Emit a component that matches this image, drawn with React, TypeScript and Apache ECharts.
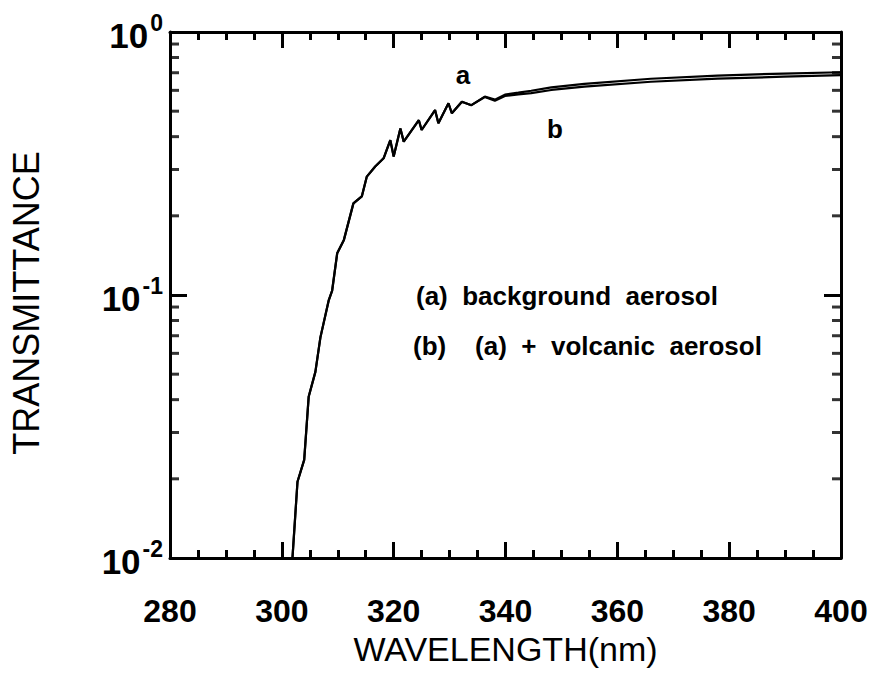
import React, { useEffect, useRef } from "react";
import * as echarts from "echarts";

// wavelength (nm) sample points
const wavelengths = [
  301.6, 302.4, 302.8, 304.0, 304.8, 306.0, 306.9, 308.4, 309.0, 309.9, 311.1,
  312.8, 314.3, 315.2, 316.7, 318.2, 319.4, 320.0, 321.2, 321.8, 324.5, 325.0,
  327.4, 328.0, 329.8, 330.4, 332.2, 333.9, 336.3, 338.1, 339.9, 342.3, 344.6,
  348.2, 354.1, 366.0, 377.9, 389.7, 400.0,
];
// (a) background aerosol
const transmittanceA = [
  0.008, 0.0145, 0.0195, 0.0236, 0.041, 0.051, 0.069, 0.0957, 0.104, 0.144,
  0.162, 0.223, 0.237, 0.282, 0.308, 0.331, 0.388, 0.336, 0.43, 0.383, 0.462,
  0.424, 0.505, 0.45, 0.536, 0.491, 0.543, 0.527, 0.568, 0.553, 0.578, 0.588,
  0.598, 0.616, 0.635, 0.664, 0.683, 0.695, 0.703,
];
// (b) (a) + volcanic aerosol
const transmittanceB = [
  0.008, 0.0145, 0.0195, 0.0236, 0.041, 0.051, 0.069, 0.0957, 0.104, 0.144,
  0.162, 0.223, 0.237, 0.282, 0.308, 0.331, 0.388, 0.336, 0.43, 0.383, 0.462,
  0.424, 0.505, 0.45, 0.536, 0.491, 0.543, 0.527, 0.566, 0.548, 0.571, 0.579,
  0.586, 0.602, 0.62, 0.647, 0.665, 0.676, 0.685,
];
const minorTicksY = [
  0.02, 0.03, 0.04, 0.05, 0.06, 0.07, 0.08, 0.09, 0.2, 0.3, 0.4, 0.5, 0.6,
  0.7, 0.8, 0.9,
];
const xMin = 280;
const xMax = 400;
const xStep = 20;
const yMin = 0.01;
const yMax = 1;

const FONT = "Liberation Sans, Arial, Helvetica, sans-serif";

export default function App() {
  const ref = useRef<HTMLDivElement>(null);
  useEffect(() => {
    document.body.style.margin = "0";
    const chart = echarts.init(ref.current!, null, { renderer: "svg" });
    const axisLineStyle = { color: "#000", width: 3 };
    const xAxisBase = {
      type: "value",
      min: xMin,
      max: xMax,
      interval: xStep,
      axisLine: { show: true, onZero: false, lineStyle: axisLineStyle },
      axisTick: { show: true, inside: true, length: 16, lineStyle: { color: "#000", width: 3 } },
      minorTick: { show: true, splitNumber: 4, length: 8, lineStyle: { color: "#000", width: 3 } },
      splitLine: { show: false },
      minorSplitLine: { show: false },
    };
    const yAxisBase = {
      type: "log",
      logBase: 10,
      min: yMin,
      max: yMax,
      interval: 1,
      axisLine: { show: true, onZero: false, lineStyle: axisLineStyle },
      axisTick: { show: true, inside: true, length: 17, lineStyle: { color: "#000", width: 3 } },
      splitLine: { show: false },
    };
    const toPairs = (ys: number[]) => ys.map((v, i) => [wavelengths[i], v]);
    chart.setOption({
      animation: false,
      backgroundColor: "#fff",
      textStyle: { fontFamily: FONT },
      grid: { left: 167, top: 32, width: 674, height: 526, containLabel: false },
      xAxis: [
        {
          ...xAxisBase,
          position: "bottom",
          name: "WAVELENGTH(nm)",
          nameLocation: "middle",
          nameGap: 68,
          nameTextStyle: { fontSize: 34, color: "#000", fontFamily: FONT },
          axisLabel: { show: true, margin: 37, fontSize: 32, fontWeight: "bold", color: "#000", fontFamily: FONT },
        },
        { ...xAxisBase, position: "top", axisLabel: { show: false } },
      ],
      yAxis: [
        {
          ...yAxisBase,
          position: "left",
          name: "TRANSMITTANCE",
          nameLocation: "middle",
          nameGap: 126,
          nameTextStyle: { fontSize: 36, color: "#000", fontFamily: FONT, padding: [0, 16, 0, 0] },
          axisLabel: {
            show: true,
            margin: 7,
            color: "#000",
            formatter: (v: number) => {
              const e = Math.round(Math.log10(v));
              return `{b|10}{s|${e === 0 ? "0" : e}}`;
            },
            rich: {
              b: { fontSize: 35, fontWeight: "bold", color: "#000", fontFamily: FONT, lineHeight: 42, verticalAlign: "bottom" },
              s: { fontSize: 23, fontWeight: "bold", color: "#000", fontFamily: FONT, verticalAlign: "top", padding: [0, 0, 0, 2] },
            },
          },
        },
        { ...yAxisBase, position: "right", axisLabel: { show: false } },
      ],
      series: [
        {
          type: "line",
          name: "a",
          data: toPairs(transmittanceA),
          showSymbol: false,
          lineStyle: { color: "#000", width: 2.2 },
          clip: true,
          z: 5,
        },
        {
          type: "line",
          name: "b",
          data: toPairs(transmittanceB),
          showSymbol: false,
          lineStyle: { color: "#000", width: 2.2 },
          clip: true,
          z: 5,
        },
        {
          type: "scatter",
          data: minorTicksY.map((v) => [xMin, v]),
          symbol: "rect",
          symbolSize: [9, 3],
          symbolOffset: [4.5, 0],
          itemStyle: { color: "#000" },
          clip: false,
          silent: true,
        },
        {
          type: "scatter",
          data: minorTicksY.map((v) => [xMax, v]),
          symbol: "rect",
          symbolSize: [9, 3],
          symbolOffset: [-4.5, 0],
          itemStyle: { color: "#000" },
          clip: false,
          silent: true,
        },
      ],
      graphic: [
        { type: "text", x: 463, y: 75, style: { text: "a", font: `bold 26px ${FONT}`, fill: "#000", align: "center", verticalAlign: "middle" } },
        { type: "text", x: 555, y: 129, style: { text: "b", font: `bold 26px ${FONT}`, fill: "#000", align: "center", verticalAlign: "middle" } },
        { type: "text", x: 416, y: 296, style: { text: "(a)  background  aerosol", font: `bold 26px ${FONT}`, fill: "#000", align: "left", verticalAlign: "middle" } },
        { type: "text", x: 413, y: 346, style: { text: "(b)    (a)  +  volcanic  aerosol", font: `bold 26px ${FONT}`, fill: "#000", align: "left", verticalAlign: "middle" } },
      ],
    });
    return () => chart.dispose();
  }, []);
  return <div ref={ref} style={{ width: 879, height: 679 }} />;
}
